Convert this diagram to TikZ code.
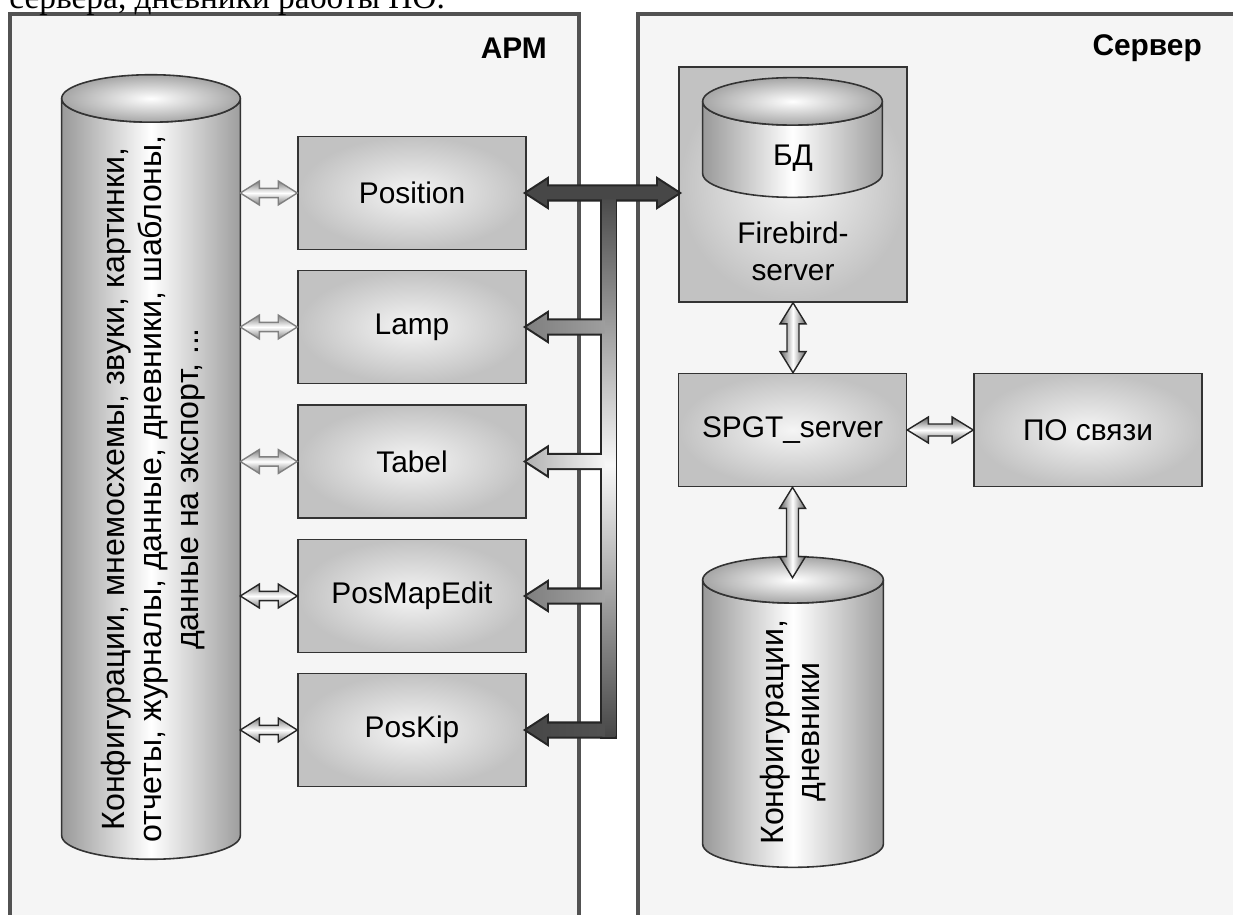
\documentclass[tikz,border=0pt]{standalone}
\usepackage{fontspec}
\setmainfont{Liberation Sans}
\newfontfamily\serifcut{Liberation Serif}
\usepackage{tikz}
\usetikzlibrary{calc,backgrounds,positioning}

\newcommand{\lbl}{\fontsize{17}{21}\selectfont}
\newcommand{\drumlbl}{\fontsize{18.3}{21}\selectfont}
\tikzstyle{prog}=[rectangle, draw=black!80, line width=0.9pt, inner color=black!4, outer color=black!24, minimum width=4.56cm, minimum height=2.26cm, font=\lbl]
\tikzstyle{drum}=[rectangle, inner sep=0pt]
\tikzstyle{drumside}=[draw=black!80, line width=0.9pt, left color=black!40, right color=black!38, middle color=white]
\tikzstyle{drumtop}=[draw=black!80, line width=0.9pt, inner color=white, outer color=black!35]
\tikzstyle{panel}=[draw=black!68, line width=1.8pt, fill=black!4]
\tikzstyle{head}=[font=\lbl\bfseries]
\tikzstyle{smallarr}=[draw=black!50, line width=0.8pt, top color=black!50, bottom color=black!50, middle color=white]
\tikzstyle{smallarrdark}=[draw=black!85, line width=0.8pt, top color=black!50, bottom color=black!50, middle color=white]
\tikzstyle{srvarrv}=[draw=black!85, line width=0.8pt, left color=black!62, right color=black!62, middle color=white]
\tikzstyle{srvarrh}=[draw=black!85, line width=0.8pt, top color=black!62, bottom color=black!62, middle color=white]
\tikzstyle{busline}=[draw=black!85, line width=2.4pt]

% cylinder drawn from the corners of a node
\newcommand{\drumshape}[2]{%
  \path[drumside] let \p1=(#1.north west), \p2=(#1.south east) in
    (\x1,\y1-#2) -- (\x1,\y2+#2)
    arc[start angle=180, end angle=360, x radius={(\x2-\x1)/2}, y radius=#2]
    -- (\x2,\y1-#2)
    arc[start angle=0, end angle=-180, x radius={(\x2-\x1)/2}, y radius=#2] -- cycle;
  \path[drumtop] let \p1=(#1.north west), \p2=(#1.south east) in
    ({(\x1+\x2)/2},\y1-#2) ellipse[x radius={(\x2-\x1)/2}, y radius=#2];}
% block arrows
\newcommand{\hdarrow}[3][]{%
  \path[#1] let \p1=#2, \p2=#3 in
    (\x1,\y1) -- (\x1+\ahl,\y1+\ahw) -- (\x1+\ahl,\y1+\asw) -- (\x2-\ahl,\y1+\asw)
    -- (\x2-\ahl,\y1+\ahw) -- (\x2,\y1) -- (\x2-\ahl,\y1-\ahw) -- (\x2-\ahl,\y1-\asw)
    -- (\x1+\ahl,\y1-\asw) -- (\x1+\ahl,\y1-\ahw) -- cycle;}
\newcommand{\vdarrow}[3][]{%
  \path[#1] let \p1=#2, \p2=#3 in
    (\x1,\y1) -- (\x1+\ahw,\y1-\ahl) -- (\x1+\asw,\y1-\ahl) -- (\x1+\asw,\y2+\ahl)
    -- (\x1+\ahw,\y2+\ahl) -- (\x1,\y2) -- (\x1-\ahw,\y2+\ahl) -- (\x1-\asw,\y2+\ahl)
    -- (\x1-\asw,\y1-\ahl) -- (\x1-\ahw,\y1-\ahl) -- cycle;}
\newcommand{\larrow}[3][]{%
  \path[#1] let \p1=#2, \p2=#3 in
    (\x1,\y1) -- (\x1+\ahl,\y1+\ahw) -- (\x1+\ahl,\y1+\asw) -- (\x2,\y1+\asw)
    -- (\x2,\y1-\asw) -- (\x1+\ahl,\y1-\asw) -- (\x1+\ahl,\y1-\ahw) -- cycle;}

\begin{document}
\begin{tikzpicture}[x=0.02cm, y=-0.02cm]
\useasboundingbox (0,0) rectangle (1233,915);

%Text cut at the top
\node[anchor=base west, inner sep=0pt, font=\serifcut\fontsize{19}{23}\selectfont] (cut) at (9,9) {сервера, дневники работы ПО.};

%Titles
\node[head, anchor=east] (apm) at (553,48) {АРМ};
\node[head, anchor=east] (srv) at (1208,48) {Сервер};

%APM side
\node[drum, minimum width=3.56cm, minimum height=15.68cm] (store) at (151,467) {};
\drumshape{store}{13.5pt}
\node[font=\drumlbl, rotate=90, align=center] (storetext) at (153,489) {Конфигурации, мнемосхемы, звуки, картинки,\\отчеты, журналы, данные, дневники, шаблоны,\\данные на экспорт, ...};
\node[prog] (pos) at (412,193) {Position};
\node[prog] (lamp) at (412,327) {Lamp};
\node[prog] (tabel) at (412,461.5) {Tabel};
\node[prog] (pme) at (412,596) {PosMapEdit};
\node[prog] (poskip) at (412,730) {PosKip};

%Server side
\node[prog, minimum height=4.7cm] (fb) at (793,184.5) {};
\node[drum, minimum width=3.58cm, minimum height=2.38cm] (db) at (792.5,137.5) {};
\drumshape{db}{13.5pt}
\node[font=\lbl] (dbtext) at (793,158) {БД};
\node[font=\lbl, align=center] (fbtext) at (793,251) {Firebird-\\server};
\node[prog] (spgt) at (792.5,430) {SPGT\_server};
\node[prog] (po) at (1088,430) {ПО связи};
\node[drum, minimum width=3.6cm, minimum height=6.2cm] (cfg) at (793,712) {};
\drumshape{cfg}{13.2pt}
\node[font=\drumlbl, rotate=90, align=center] (cfgtext) at (793,732) {Конфигурации,\\дневники};
\coordinate (cfgtop) at ($(cfg.north)+(0,21)$);

%Arrows to the store
\def\ahl{10.8pt}\def\ahw{6.8pt}\def\asw{2.6pt}
\hdarrow[smallarr]{(store.east |- pos.west)}{(pos.west)}
\hdarrow[smallarr]{(store.east |- lamp.west)}{(lamp.west)}
\hdarrow[smallarr]{(store.east |- tabel.west)}{(tabel.west)}
\hdarrow[smallarrdark]{(store.east |- pme.west)}{(pme.west)}
\hdarrow[smallarrdark]{(store.east |- poskip.west)}{(poskip.west)}

%Bus
\def\ahl{11.4pt}\def\ahw{7.4pt}\def\asw{3.7pt}
\coordinate (bustop) at ($(pos.east)+(82,0)$);
\coordinate (busbot) at ($(poskip.east)+(82,0)$);
\hdarrow[busline]{(pos.east)}{(fb.west |- pos.east)}
\path[busline] ($(bustop)+(-6.5,0)$) rectangle ($(busbot)+(6.5,6.5)$);
\larrow[busline]{(lamp.east)}{($(bustop |- lamp.east)+(-4,0)$)}
\larrow[busline]{(tabel.east)}{($(bustop |- tabel.east)+(-4,0)$)}
\larrow[busline]{(pme.east)}{($(bustop |- pme.east)+(-4,0)$)}
\larrow[busline]{(poskip.east)}{($(bustop |- poskip.east)+(-4,0)$)}
\path[top color=black!72, bottom color=black!72, middle color=black!3] ($(bustop)+(-6.5,0)$) rectangle ($(busbot)+(6.5,6.5)$);
\hdarrow[fill=black!72]{(pos.east)}{(fb.west |- pos.east)}
\larrow[left color=black!50, right color=black!38]{(lamp.east)}{($(bustop |- lamp.east)+(-4,0)$)}
\larrow[left color=black!30, right color=black!4]{(tabel.east)}{($(bustop |- tabel.east)+(-4,0)$)}
\larrow[left color=black!50, right color=black!36]{(pme.east)}{($(bustop |- pme.east)+(-4,0)$)}
\larrow[left color=black!72, right color=black!68]{(poskip.east)}{($(bustop |- poskip.east)+(-4,0)$)}

%Server arrows
\def\ahl{12pt}\def\ahw{7.4pt}\def\asw{3.4pt}
\vdarrow[srvarrv]{(fb.south)}{(spgt.north)}
\hdarrow[srvarrh]{(spgt.east)}{(po.west)}
\vdarrow[srvarrv]{(spgt.south)}{(cfgtop)}

%background
\begin{scope}[on background layer]
\fill[white] (0,0) rectangle (1233,915);
\draw[panel] (10,14) rectangle (579,940);
\draw[panel] (638,14) rectangle (1260,940);
\end{scope}

\end{tikzpicture}
\end{document}
